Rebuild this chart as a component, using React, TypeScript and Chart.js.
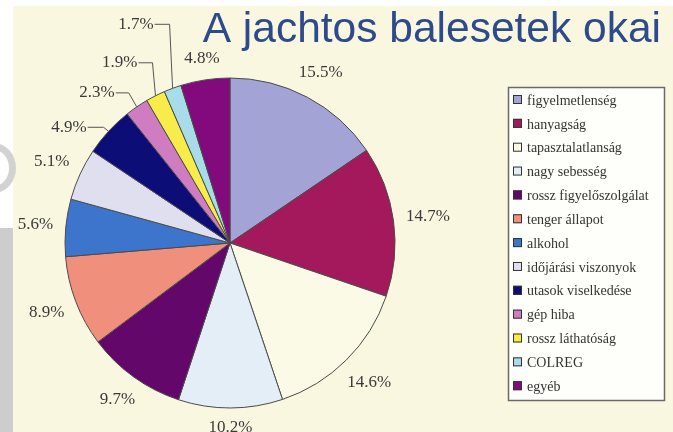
import React, { useEffect, useRef } from "react";
import { Chart, registerables } from "chart.js";

Chart.register(...registerables);

const TITLE = "A jachtos balesetek okai";

const CATEGORIES = [
  "figyelmetlenség",
  "hanyagság",
  "tapasztalatlanság",
  "nagy sebesség",
  "rossz figyelőszolgálat",
  "tenger állapot",
  "alkohol",
  "időjárási viszonyok",
  "utasok viselkedése",
  "gép hiba",
  "rossz láthatóság",
  "COLREG",
  "egyéb",
];

const PERCENTS = [15.5, 14.7, 14.6, 10.2, 9.7, 8.9, 5.6, 5.1, 4.9, 2.3, 1.9, 1.7, 4.8];

const COLORS = [
  "#a3a3d6",
  "#a3195b",
  "#fbfae6",
  "#e3eef6",
  "#63076b",
  "#f0907c",
  "#3d74cc",
  "#dfdff0",
  "#0d0d78",
  "#d07cc0",
  "#f8ec4a",
  "#a8dce8",
  "#820a7c",
];

// label leader-line layout (offsets relative to slice edge), style only
const LEADERS: Record<number, { dx: number; dy: number; run: number }> = {
  8: { dx: -5, dy: -4, run: 16 },
  9: { dx: -8, dy: -14, run: 13 },
  10: { dx: -3, dy: -33, run: 14 },
  11: { dx: -3, dy: -64, run: 15 },
};

const SERIF = '"Liberation Serif", "Times New Roman", serif';
const SANS = '"Liberation Sans", Arial, sans-serif';

const sliceLabels = {
  id: "sliceLabels",
  afterDatasetsDraw(chart: any) {
    const ctx = chart.ctx;
    const meta = chart.getDatasetMeta(0);
    ctx.save();
    ctx.font = "17px " + SERIF;
    ctx.fillStyle = "#3a3a3a";
    ctx.strokeStyle = "#555";
    ctx.lineWidth = 1;
    meta.data.forEach((arc: any, i: number) => {
      const { x, y, startAngle, endAngle, outerRadius } = arc.getProps(
        ["x", "y", "startAngle", "endAngle", "outerRadius"],
        true
      );
      const a = (startAngle + endAngle) / 2;
      const cos = Math.cos(a);
      const sin = Math.sin(a);
      const text = PERCENTS[i].toFixed(1) + "%";
      const leader = LEADERS[i];
      if (leader) {
        const px = x + cos * outerRadius;
        const py = y + sin * outerRadius;
        const ex = px + leader.dx;
        const ey = py + leader.dy;
        const tx = ex - leader.run;
        ctx.beginPath();
        ctx.moveTo(px, py);
        ctx.lineTo(ex, ey);
        ctx.lineTo(tx, ey);
        ctx.stroke();
        ctx.textAlign = "right";
        ctx.textBaseline = "middle";
        ctx.fillText(text, tx - 1, ey);
      } else {
        const w = ctx.measureText(text).width;
        const h = 14;
        const d = outerRadius + 12 + (w / 2) * Math.abs(cos) + (h / 2) * Math.abs(sin);
        ctx.textAlign = "center";
        ctx.textBaseline = "middle";
        ctx.fillText(text, x + cos * d, y + sin * d);
      }
    });
    ctx.restore();
  },
};

const titleAndLegend = {
  id: "titleAndLegend",
  afterDraw(chart: any) {
    const ctx = chart.ctx;
    ctx.save();
    // title
    ctx.font = "42.5px " + SANS;
    ctx.fillStyle = "#2d4b8c";
    ctx.textAlign = "right";
    ctx.textBaseline = "alphabetic";
    ctx.fillText(TITLE, 661, 42);

    // legend box
    const bx = 508, by = 87, bw = 156, bh = 313;
    ctx.fillStyle = "#fefefb";
    ctx.fillRect(bx, by, bw, bh);
    ctx.strokeStyle = "#6a6a6a";
    ctx.lineWidth = 1.5;
    ctx.strokeRect(bx + 0.5, by + 0.5, bw, bh);

    const labels: string[] = chart.data.labels;
    const colors: string[] = chart.data.datasets[0].backgroundColor;
    ctx.font = "14px " + SERIF;
    ctx.textAlign = "left";
    ctx.textBaseline = "middle";
    labels.forEach((lab, i) => {
      const cy = 100 + i * 23.85;
      ctx.fillStyle = colors[i];
      ctx.fillRect(513, cy - 5, 9, 9);
      ctx.strokeStyle = "#333";
      ctx.lineWidth = 1;
      ctx.strokeRect(513.5, cy - 4.5, 8, 8);
      ctx.fillStyle = "#333";
      ctx.fillText(lab, 527, cy + 1);
    });
    ctx.restore();
  },
};

export default function App() {
  const ref = useRef<HTMLCanvasElement | null>(null);

  useEffect(() => {
    document.body.style.margin = "0";
    const chart = new Chart(ref.current as HTMLCanvasElement, {
      type: "pie",
      data: {
        labels: CATEGORIES,
        datasets: [
          {
            data: PERCENTS,
            backgroundColor: COLORS,
            borderColor: "#4a4a4a",
            borderWidth: 1,
          },
        ],
      },
      options: {
        responsive: true,
        maintainAspectRatio: false,
        animation: false,
        radius: 165,
        layout: { padding: { left: 20, right: 233, top: 60, bottom: 6 } },
        plugins: {
          legend: { display: false },
          tooltip: { enabled: false },
          title: { display: false },
        },
      } as any,
      plugins: [sliceLabels, titleAndLegend],
    });
    return () => chart.destroy();
  }, []);

  return (
    <div
      style={{
        position: "absolute",
        left: 0,
        top: 0,
        width: 673,
        height: 432,
        background: "#ffffff",
        overflow: "hidden",
      }}
    >
      <div
        style={{
          position: "absolute",
          left: 13,
          top: 6,
          right: 0,
          bottom: 0,
          background: "#faf7e1",
        }}
      />
      <div
        style={{
          position: "absolute",
          left: 0,
          top: 228,
          width: 13,
          bottom: 0,
          background: "#cdcdcd",
        }}
      />
      <div
        style={{
          position: "absolute",
          left: -28,
          top: 143,
          width: 44,
          height: 50,
          borderRadius: "50%",
          border: "7px solid #d2d2d2",
          boxSizing: "border-box",
        }}
      />
      <div style={{ position: "absolute", left: 0, top: 0, width: 673, height: 432 }}>
        <canvas ref={ref} />
      </div>
    </div>
  );
}
